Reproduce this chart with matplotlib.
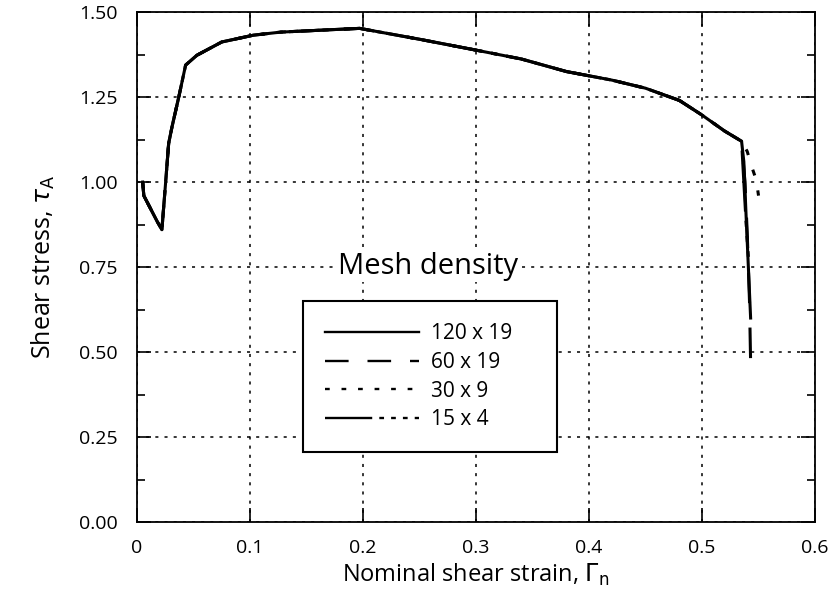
import matplotlib
matplotlib.use("Agg")
import matplotlib.pyplot as plt
from matplotlib.ticker import MultipleLocator

plt.rcParams['font.family'] = ['Open Sans', 'DejaVu Sans']

# Shared part of the response (all mesh densities overlap)
base_x = [0.005, 0.006, 0.018, 0.022, 0.025, 0.028, 0.031, 0.037, 0.043, 0.053,
          0.075, 0.103, 0.127, 0.171, 0.197, 0.25, 0.30, 0.34, 0.38, 0.42,
          0.45, 0.48, 0.50, 0.52, 0.535]
base_y = [1.00, 0.96, 0.883, 0.86, 0.986, 1.114, 1.163, 1.251, 1.344, 1.373,
          1.412, 1.432, 1.441, 1.448, 1.452, 1.42, 1.388, 1.362, 1.325, 1.30,
          1.276, 1.24, 1.197, 1.15, 1.12]

# Tails after the peak drop for each mesh
tail_120_x = [0.537, 0.539, 0.541, 0.543]
tail_120_y = [1.06, 0.90, 0.75, 0.60]
tail_60_x = [0.538, 0.540, 0.542, 0.543]
tail_60_y = [1.00, 0.85, 0.65, 0.47]
tail_30_x = [0.540, 0.544, 0.548, 0.550]
tail_30_y = [1.09, 1.045, 1.006, 0.96]
tail_15_x = [0.537, 0.539, 0.541]
tail_15_y = [1.00, 0.88, 0.78]

labels = ['120 x 19', '60 x 19', '30 x 9', '15 x 4']
styles = ['-', (0, (10, 8)), (0, (2, 5)), (0, (20, 3, 2, 3, 2, 3, 2, 3))]

x_ticks = [0, 0.1, 0.2, 0.3, 0.4, 0.5, 0.6]
x_ticklabels = ['0', '0.1', '0.2', '0.3', '0.4', '0.5', '0.6']
y_ticks = [0.0, 0.25, 0.5, 0.75, 1.0, 1.25, 1.5]
y_ticklabels = ['0.00', '0.25', '0.50', '0.75', '1.00', '1.25', '1.50']

fig = plt.figure(figsize=(8.32, 6.03), dpi=100)
ax = fig.add_axes([0.1647, 0.1343, 0.8149, 0.8457])

tails = [(tail_120_x, tail_120_y), (tail_60_x, tail_60_y),
         (tail_30_x, tail_30_y), (tail_15_x, tail_15_y)]
for (tx, ty), lab, ls in zip(tails, labels, styles):
    ax.plot(base_x + tx, base_y + ty, color='black', linestyle=ls,
            linewidth=2.2, label=lab, zorder=3)

ax.set_xlim(0, 0.6)
ax.set_ylim(0, 1.5)
ax.set_xticks(x_ticks)
ax.set_xticklabels(x_ticklabels)
ax.set_yticks(y_ticks)
ax.set_yticklabels(y_ticklabels)
ax.yaxis.set_minor_locator(MultipleLocator(0.125))
ax.tick_params(which='major', direction='in', length=10, width=1.2,
               top=True, right=True, labelsize=14)
ax.tick_params(axis='x', which='major', pad=12)
ax.tick_params(axis='y', which='major', pad=14)
ax.tick_params(which='minor', direction='in', length=6, width=1.2,
               left=True, right=True)
for s in ax.spines.values():
    s.set_linewidth(1.3)

ax.grid(True, which='major', color='black', linestyle=(0, (2, 4)), linewidth=1.1)

ax.set_xlabel(r'Nominal shear strain, $\Gamma_{\rm n}$', fontsize=17, labelpad=4)
ax.set_ylabel(r'Shear stress, $\tau_{\rm A}$', fontsize=18, labelpad=16)

leg_handles = []
for lab, ls in zip(labels, styles):
    h, = ax.plot([], [], color='black', linestyle=ls, linewidth=1.7, label=lab)
    leg_handles.append(h)
leg = ax.legend(handles=leg_handles, loc='lower left',
                bbox_to_anchor=(0.245, 0.137, 0.374, 0.298), mode='expand',
                borderaxespad=0, fontsize=15, handlelength=4.5,
                handletextpad=0.6, labelspacing=0.37, frameon=True,
                fancybox=False, edgecolor='black', framealpha=1, borderpad=1.05)
leg.get_frame().set_linewidth(1.5)
leg.set_zorder(5)

ax.text(0.429, 0.502, 'Mesh density', transform=ax.transAxes, fontsize=21,
        ha='center', va='center', zorder=6,
        bbox=dict(facecolor='white', edgecolor='none', pad=1))

fig.savefig('out.png', dpi=100)
